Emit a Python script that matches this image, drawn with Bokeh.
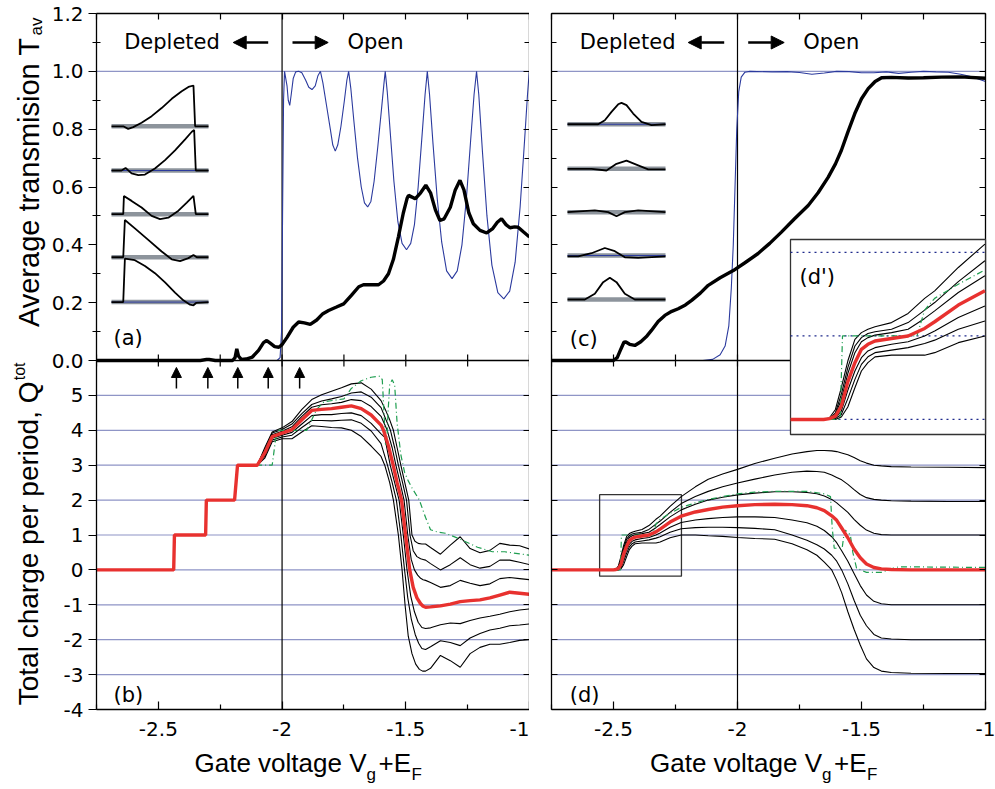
from math import pi
from bokeh.plotting import figure
from bokeh.models import Range1d, LinearAxis, FixedTicker, Span, Label, Arrow, NormalHead, Grid
from bokeh.layouts import row, column
from bokeh.embed import file_html
from bokeh.resources import INLINE

# ============================ DATA ============================
X_RANGE = [-2.75, -1.0]
T_RANGE = [0.0, 1.2]
Q_RANGE = [-4.0, 6.0]

T_TICKS = [0.0, 0.2, 0.4, 0.6, 0.8, 1.0, 1.2]
T_TICK_LABELS = ["0.0", "0.2", "0.4", "0.6", "0.8", "1.0", "1.2"]
T_MINOR = [0.1, 0.3, 0.5, 0.7, 0.9, 1.1]
Q_TICKS = [-4.0, -3.0, -2.0, -1.0, 0.0, 1.0, 2.0, 3.0, 4.0, 5.0]
Q_TICK_LABELS = ["-4", "-3", "-2", "-1", "0", "1", "2", "3", "4", "5"]
X_TICKS = [-2.5, -2.0, -1.5, -1.0]
X_TICK_LABELS = ["-2.5", "-2", "-1.5", "-1"]
X_MINOR = [-2.75, -2.25, -1.75, -1.25]
Q_GRID = [-3, -2, -1, 0, 1, 2, 3, 4, 5]
T_GRID = [1.0]
BOUNDARY_X = -2.0
STEP_ARROW_X = [-2.427, -2.300, -2.179, -2.056, -1.929]
STEP_ARROW_Y = [5.2, 5.8]

# ---- panel (a): transmission (blue) and average transmission (black)
A_T_X = [-2.75, -2.02, -2.008, -2.002, -1.998, -1.994, -1.990,
         -1.980, -1.975, -1.969, -1.963, -1.955, -1.945, -1.933, -1.920, -1.905, -1.892, -1.879, -1.866, -1.855, -1.845,
         -1.835, -1.820, -1.805, -1.795, -1.785, -1.775, -1.762, -1.748, -1.738, -1.731,
         -1.722, -1.710, -1.695, -1.680, -1.667, -1.654, -1.641, -1.628, -1.613, -1.598, -1.588, -1.583,
         -1.575, -1.562, -1.548, -1.532, -1.515, -1.497, -1.480, -1.465, -1.450, -1.435, -1.422, -1.413,
         -1.404, -1.390, -1.373, -1.355, -1.335, -1.313, -1.292, -1.273, -1.255, -1.238, -1.224, -1.214,
         -1.205, -1.190, -1.172, -1.152, -1.128, -1.104, -1.080, -1.058, -1.038, -1.020, -1.008, -1.001, -1.0]
A_T_Y = [0.0, 0.0, 0.01, 0.1, 0.5, 0.9, 1.0,
         0.95, 0.9, 0.882, 0.92, 0.975, 0.998, 1.0, 0.995, 0.97, 0.945, 0.937, 0.95, 0.985, 1.0,
         0.96, 0.88, 0.8, 0.745, 0.724, 0.745, 0.81, 0.9, 0.97, 1.0,
         0.94, 0.83, 0.7, 0.6, 0.545, 0.531, 0.55, 0.62, 0.74, 0.87, 0.96, 1.0,
         0.93, 0.78, 0.62, 0.48, 0.405, 0.383, 0.405, 0.47, 0.6, 0.77, 0.92, 1.0,
         0.92, 0.75, 0.56, 0.41, 0.31, 0.283, 0.31, 0.4, 0.56, 0.76, 0.92, 1.0,
         0.92, 0.72, 0.5, 0.33, 0.235, 0.213, 0.24, 0.34, 0.53, 0.76, 0.92, 1.0, 1.0]
A_TAV_X = [-2.75, -2.45, -2.33, -2.305, -2.295, -2.27, -2.20, -2.19, -2.183, -2.176, -2.165, -2.145, -2.12,
           -2.095, -2.075, -2.062, -2.048, -2.03, -2.013, -2.0, -1.98, -1.955, -1.933, -1.91, -1.886, -1.86,
           -1.835, -1.812, -1.78, -1.751, -1.72, -1.69, -1.671, -1.64, -1.61, -1.59, -1.57, -1.55, -1.53,
           -1.51, -1.495, -1.489, -1.475, -1.462, -1.44, -1.419, -1.40, -1.38, -1.362, -1.345, -1.32, -1.30,
           -1.281, -1.265, -1.245, -1.227, -1.20, -1.173, -1.15, -1.13, -1.113, -1.095, -1.079, -1.06,
           -1.046, -1.025, -1.0]
A_TAV_Y = [0.0, 0.0, 0.0, 0.004, 0.004, 0.0, 0.0, 0.01, 0.04, 0.015, 0.004, 0.005, 0.012,
           0.035, 0.062, 0.069, 0.06, 0.048, 0.046, 0.055, 0.08, 0.115, 0.133, 0.13, 0.125, 0.14,
           0.162, 0.173, 0.185, 0.196, 0.225, 0.255, 0.262, 0.262, 0.262, 0.275, 0.30, 0.35, 0.427,
           0.51, 0.56, 0.571, 0.565, 0.559, 0.58, 0.606, 0.58, 0.52, 0.484, 0.49, 0.53, 0.59,
           0.623, 0.59, 0.51, 0.473, 0.45, 0.441, 0.455, 0.478, 0.49, 0.47, 0.459, 0.462,
           0.461, 0.445, 0.427]

# ---- panel (c): transmission (blue) and average transmission (black)
C_T_X = [-2.75, -2.14, -2.10, -2.07, -2.05, -2.035, -2.025, -2.017, -2.01, -2.003, -1.995, -1.985, -1.97,
         -1.95, -1.86, -1.80, -1.75, -1.70, -1.65, -1.60, -1.55, -1.50, -1.45, -1.40, -1.35, -1.30, -1.25,
         -1.20, -1.15, -1.10, -1.05, -1.0]
C_T_Y = [0.0, 0.0, 0.004, 0.02, 0.05, 0.12, 0.25, 0.4, 0.6, 0.8, 0.93, 0.98, 0.997,
         1.0, 0.998, 0.999, 0.996, 0.99, 0.994, 1.0, 0.999, 0.995, 0.995, 0.998, 0.993, 0.997, 1.0,
         0.998, 0.997, 0.99, 0.98, 0.965]
C_TAV_X = [-2.75, -2.50, -2.485, -2.47, -2.458, -2.45, -2.435, -2.414, -2.39, -2.365, -2.347, -2.32, -2.293,
           -2.265, -2.239, -2.21, -2.185, -2.15, -2.118, -2.07, -2.017, -1.97, -1.917, -1.87, -1.823, -1.77,
           -1.715, -1.675, -1.634, -1.605, -1.581, -1.555, -1.527, -1.50, -1.473, -1.445, -1.419, -1.38,
           -1.312, -1.25, -1.177, -1.10, -1.0]
C_TAV_Y = [0.0, 0.0, 0.01, 0.04, 0.063, 0.064, 0.056, 0.052, 0.065, 0.085, 0.104, 0.135, 0.156,
           0.17, 0.179, 0.192, 0.208, 0.233, 0.26, 0.286, 0.311, 0.338, 0.37, 0.405, 0.444, 0.49,
           0.536, 0.58, 0.634, 0.68, 0.727, 0.79, 0.854, 0.905, 0.94, 0.965, 0.978, 0.979,
           0.977, 0.978, 0.98, 0.981, 0.976]

# ---- panel (a) wave-function sketches (u: 0..1 along sketch, v: height in T units)
SKA_U = [[0, 0.121, 0.172, 0.224, 0.31, 0.414, 0.517, 0.621, 0.724, 0.793, 0.845, 0.862, 1.0],
         [0, 0.103, 0.145, 0.207, 0.276, 0.345, 0.448, 0.552, 0.655, 0.759, 0.828, 0.852, 0.869, 1.0],
         [0, 0.121, 0.128, 0.207, 0.31, 0.414, 0.5, 0.586, 0.69, 0.776, 0.845, 0.869, 1.0],
         [0, 0.121, 0.138, 0.241, 0.379, 0.517, 0.621, 0.707, 0.793, 0.845, 0.879, 1.0],
         [0, 0.121, 0.138, 0.241, 0.345, 0.448, 0.552, 0.655, 0.741, 0.81, 0.845, 0.872, 1.0]]
SKA_V = [[0, 0, -0.009, -0.003, 0.012, 0.035, 0.063, 0.095, 0.121, 0.136, 0.141, 0, 0],
         [0, 0, 0.009, -0.010, -0.016, -0.014, 0.007, 0.036, 0.070, 0.108, 0.134, 0.14, 0, 0],
         [0, 0, 0.063, 0.046, 0.023, -0.006, -0.017, -0.012, 0.012, 0.040, 0.063, 0, 0],
         [0, 0, 0.129, 0.1, 0.06, 0.02, -0.007, -0.013, -0.003, 0.008, 0, 0],
         [0, 0, 0.15, 0.145, 0.125, 0.1, 0.068, 0.033, 0.006, -0.009, -0.011, -0.003, 0]]
SKA_LEVEL = [0.81, 0.657, 0.506, 0.357, 0.202]
SKA_BLUE = [1, 4]

# ---- panel (c) wave-function sketches
SKC_U = [[0, 0.313, 0.381, 0.449, 0.517, 0.551, 0.602, 0.670, 0.755, 0.857, 1.0],
         [0, 0.245, 0.398, 0.5, 0.602, 0.721, 0.823, 1.0],
         [0, 0.279, 0.415, 0.5, 0.585, 0.721, 1.0],
         [0, 0.109, 0.245, 0.381, 0.483, 0.585, 0.721, 1.0],
         [0, 0.177, 0.279, 0.364, 0.432, 0.5, 0.585, 0.687, 1.0]]
SKC_V = [[0, 0, 0.014, 0.043, 0.069, 0.074, 0.066, 0.037, 0.008, -0.003, 0],
         [0, 0, -0.006, 0.017, 0.028, 0.012, -0.002, -0.002],
         [0, 0.006, 0.0, -0.014, 0.0, 0.006, 0],
         [-0.003, -0.003, 0.008, 0.026, 0.015, -0.006, -0.008, -0.003],
         [0, 0, 0.02, 0.06, 0.075, 0.06, 0.02, 0, 0]]
SKC_LEVEL = [0.817, 0.663, 0.513, 0.363, 0.211]
SKC_BLUE = [0, 3]

# ---- panel (b): total charge, common staircase then seven curves
B_STAIR_X = [-2.75, -2.438, -2.435, -2.309, -2.306, -2.192, -2.18]
B_STAIR_Y = [0, 0, 1, 1, 2, 2, 3]
B_HEAD_X = [-2.10, -2.07, -2.04, -2.00, -1.96, -1.92, -1.88, -1.84, -1.80, -1.76, -1.72, -1.68, -1.64, -1.60]
B_TAIL_X = [-1.42, -1.40, -1.36, -1.32, -1.28, -1.24, -1.20, -1.16, -1.12, -1.08, -1.04, -1.00]

B_P3_HEAD = [3.0, 3.5, 3.95, 4.07, 4.25, 4.6, 4.88, 5.02, 5.12, 5.22, 5.33, 5.36, 5.18, 4.85]
B_P3_DROP_X = [-1.58, -1.565, -1.55, -1.535, -1.52, -1.504, -1.488, -1.475, -1.463, -1.45, -1.435]
B_P3_DROP_Y = [4.55, 4.3, 4.0, 3.5, 3.0, 2.5, 2.0, 1.0, 0.82, 0.76, 0.74]
B_P3_TAIL = [0.74, 0.64, 0.45, 0.71, 0.95, 0.61, 0.49, 0.56, 0.76, 0.71, 0.69, 0.6]

B_P2_HEAD = [3.0, 3.45, 3.92, 4.02, 4.18, 4.48, 4.74, 4.84, 4.9, 4.97, 5.07, 5.1, 4.95, 4.65]
B_P2_DROP_X = [-1.58, -1.562, -1.545, -1.53, -1.513, -1.497, -1.483, -1.47, -1.455, -1.44, -1.43]
B_P2_DROP_Y = [4.3, 4.0, 3.5, 3.0, 2.5, 2.0, 1.0, 0.55, 0.38, 0.32, 0.3]
B_P2_TAIL = [0.28, 0.18, 0.0, 0.15, 0.35, 0.15, 0.05, 0.1, 0.28, 0.28, 0.22, 0.15]

B_P1_HEAD = [3.0, 3.4, 3.87, 3.97, 4.1, 4.4, 4.66, 4.73, 4.76, 4.8, 4.88, 4.85, 4.68, 4.4]
B_P1_DROP_X = [-1.575, -1.555, -1.54, -1.523, -1.507, -1.492, -1.478, -1.465, -1.452, -1.44, -1.43]
B_P1_DROP_Y = [4.0, 3.5, 3.0, 2.5, 2.0, 1.0, 0.3, 0.0, -0.15, -0.24, -0.28]
B_P1_TAIL = [-0.3, -0.36, -0.5, -0.45, -0.3, -0.38, -0.45, -0.4, -0.25, -0.22, -0.25, -0.28]

B_RED_HEAD = [3.0, 3.35, 3.82, 3.92, 4.02, 4.3, 4.57, 4.6, 4.62, 4.66, 4.7, 4.62, 4.44, 4.15]
B_RED_DROP_X = [-1.59, -1.57, -1.551, -1.535, -1.517, -1.501, -1.484, -1.47, -1.455, -1.44, -1.43]
B_RED_DROP_Y = [4.0, 3.55, 3.0, 2.5, 2.0, 1.0, 0.0, -0.5, -0.8, -0.97, -1.04]
B_RED_TAIL = [-1.07, -1.06, -1.03, -0.98, -0.91, -0.88, -0.86, -0.8, -0.72, -0.64, -0.67, -0.7]

B_M1_HEAD = [3.0, 3.3, 3.77, 3.86, 3.94, 4.18, 4.42, 4.45, 4.45, 4.48, 4.5, 4.42, 4.2, 3.9]
B_M1_DROP_X = [-1.585, -1.563, -1.545, -1.527, -1.51, -1.495, -1.48, -1.465, -1.45, -1.435]
B_M1_DROP_Y = [3.8, 3.0, 2.5, 2.0, 1.0, 0.0, -0.75, -1.2, -1.5, -1.65]
B_M1_TAIL = [-1.68, -1.66, -1.57, -1.52, -1.54, -1.45, -1.38, -1.33, -1.27, -1.2, -1.15, -1.12]

B_M2_HEAD = [3.0, 3.25, 3.72, 3.81, 3.86, 4.08, 4.28, 4.28, 4.27, 4.29, 4.3, 4.2, 3.98, 3.62]
B_M2_DROP_X = [-1.574, -1.555, -1.538, -1.52, -1.505, -1.492, -1.478, -1.462, -1.448, -1.435]
B_M2_DROP_Y = [3.0, 2.5, 2.0, 1.0, 0.0, -0.8, -1.4, -1.85, -2.1, -2.25]
B_M2_TAIL = [-2.28, -2.2, -2.03, -2.08, -2.17, -1.95, -1.82, -1.72, -1.67, -1.6, -1.58, -1.55]

B_M3_HEAD = [3.0, 3.2, 3.67, 3.76, 3.76, 3.95, 4.13, 4.11, 4.08, 4.07, 4.0, 3.82, 3.55, 3.25]
B_M3_DROP_X = [-1.585, -1.565, -1.55, -1.53, -1.515, -1.503, -1.49, -1.475, -1.46, -1.445, -1.432]
B_M3_DROP_Y = [3.0, 2.5, 2.0, 1.0, 0.0, -1.0, -1.9, -2.4, -2.7, -2.85, -2.9]
B_M3_TAIL = [-2.9, -2.82, -2.45, -2.6, -2.79, -2.4, -2.22, -2.13, -2.13, -2.08, -2.02, -2.0]

B_GREEN_X = [-2.75, -2.438, -2.435, -2.309, -2.306, -2.192, -2.18, -2.04, -2.025, -2.018, -1.90, -1.88, -1.86,
             -1.83, -1.75, -1.72, -1.68, -1.64, -1.605, -1.595, -1.588, -1.582, -1.577, -1.572, -1.565, -1.555,
             -1.545, -1.535, -1.52, -1.505, -1.49, -1.475, -1.445, -1.42, -1.40, -1.37, -1.34, -1.28, -1.21,
             -1.15, -1.10, -1.00]
B_GREEN_Y = [0, 0, 1, 1, 2, 2, 3, 3, 3.8, 4.0, 4.0, 4.3, 4.6,
             4.82, 4.9, 5.2, 5.42, 5.52, 5.55, 5.45, 4.5, 3.6, 3.6, 4.5, 5.3, 5.45,
             5.3, 4.2, 3.3, 2.8, 2.55, 2.35, 2.0, 1.5, 1.15, 1.08, 1.05, 0.88, 0.65,
             0.52, 0.52, 0.42]

# ---- panel (d): total charge, seven curves on a common gate-voltage grid
D_X = [-2.75, -2.556, -2.50, -2.49, -2.48, -2.47, -2.459, -2.447, -2.436, -2.425, -2.413, -2.385, -2.357,
       -2.329, -2.312, -2.272, -2.227, -2.17, -2.118, -2.06, -2.0, -1.93, -1.85, -1.78, -1.72, -1.68,
       -1.65, -1.62, -1.60, -1.58, -1.555, -1.53, -1.505, -1.48, -1.45, -1.42, -1.38, -1.30, -1.15, -1.0]
D_P3 = [0, 0, 0, 0.02, 0.12, 0.38, 0.7, 0.96, 1.04, 1.08, 1.11, 1.16, 1.27, 1.45, 1.54, 1.82, 2.1, 2.38,
        2.6, 2.75, 2.88, 3.05, 3.2, 3.32, 3.39, 3.42, 3.42, 3.41, 3.39, 3.35, 3.3, 3.22, 3.13, 3.06, 3.0,
        2.98, 2.96, 2.95, 2.94, 2.93]
D_P2 = [0, 0, 0, 0.01, 0.08, 0.3, 0.62, 0.88, 0.98, 1.03, 1.05, 1.08, 1.16, 1.31, 1.4, 1.65, 1.9, 2.1,
        2.25, 2.38, 2.49, 2.6, 2.72, 2.8, 2.83, 2.82, 2.8, 2.72, 2.65, 2.58, 2.45, 2.3, 2.16, 2.07, 2.02,
        2.0, 1.98, 1.97, 1.96, 1.96]
D_P1 = [0, 0, 0, 0.01, 0.06, 0.24, 0.55, 0.8, 0.93, 0.98, 1.01, 1.04, 1.08, 1.21, 1.3, 1.52, 1.72, 1.88,
        2.0, 2.08, 2.15, 2.2, 2.24, 2.24, 2.22, 2.18, 2.12, 2.02, 1.92, 1.8, 1.65, 1.45, 1.28, 1.14, 1.05,
        1.01, 1.0, 1.0, 1.0, 1.0]
D_RED = [0, 0, 0, 0.01, 0.04, 0.16, 0.45, 0.68, 0.84, 0.9, 0.94, 0.97, 1.0, 1.09, 1.17, 1.37, 1.54, 1.66,
         1.73, 1.8, 1.84, 1.87, 1.88, 1.87, 1.84, 1.78, 1.7, 1.55, 1.42, 1.2, 0.92, 0.6, 0.35, 0.17, 0.07,
         0.03, 0.01, 0.0, 0.0, 0.0]
D_M1 = [0, 0, 0, 0.0, 0.02, 0.1, 0.35, 0.58, 0.74, 0.82, 0.86, 0.9, 0.93, 1.0, 1.06, 1.22, 1.36, 1.43,
        1.47, 1.5, 1.52, 1.52, 1.5, 1.43, 1.35, 1.25, 1.13, 0.95, 0.78, 0.55, 0.25, -0.1, -0.45, -0.72,
        -0.9, -0.97, -1.0, -1.0, -1.0, -1.0]
D_M2 = [0, 0, 0, 0.0, 0.01, 0.06, 0.25, 0.48, 0.66, 0.75, 0.8, 0.83, 0.86, 0.91, 0.95, 1.08, 1.18, 1.21,
        1.22, 1.22, 1.21, 1.19, 1.15, 1.0, 0.85, 0.72, 0.6, 0.42, 0.25, 0.0, -0.4, -0.87, -1.3, -1.6,
        -1.85, -1.95, -1.98, -2.0, -2.0, -2.0]
D_M3 = [0, 0, 0, 0.0, 0.0, 0.03, 0.15, 0.38, 0.58, 0.68, 0.75, 0.77, 0.77, 0.77, 0.8, 0.92, 1.0, 1.0,
        0.98, 0.96, 0.93, 0.9, 0.88, 0.75, 0.58, 0.42, 0.22, 0.0, -0.3, -0.65, -1.2, -1.7, -2.15, -2.55,
        -2.8, -2.9, -2.94, -2.96, -2.97, -2.97]
D_GREEN_X = [-2.75, -2.556, -2.472, -2.468, -2.342, -2.329, -2.312, -2.272, -2.227, -2.17, -2.118, -2.0,
             -1.93, -1.85, -1.72, -1.65, -1.625, -1.618, -1.61, -1.578, -1.572, -1.565, -1.545, -1.535,
             -1.52, -1.48, -1.42, -1.37, -1.35, -1.00]
D_GREEN_Y = [0, 0, 0, 1.0, 1.0, 1.31, 1.45, 1.62, 1.79, 1.92, 2.02, 2.18,
             2.23, 2.25, 2.25, 2.18, 2.1, 1.2, 0.62, 0.62, 0.95, 1.14, 1.0, 0.5,
             0.05, -0.07, -0.07, 0.05, 0.09, 0.07]

# zoom window shown in inset (d')
INSET_X = [-2.556, -2.226]
INSET_Y = [-0.18, 2.155]
INSET_GRID = [0, 1, 2]

# ============================ STYLE / LAYOUT ============================
BLUE = "#2b3a9e"
DOT = "#1f2a8c"
RED = "#e8312f"
GREEN = "#1f9e50"
GRAY = "#8d949c"
TICK_FONT = "DejaVu Sans"
TXT_FONT = "DejaVu Sans"
LAB_FONT = "Liberation Sans"

PAGE_W, PAGE_H = 995, 789
STRIP_W = 48          # left strip holding the rotated axis titles
LABEL_H = 44          # bottom strip holding the x titles
TOP_PX, MID_PX, BOT_PX = 13, 360, 709
LEFT_FRAME = (95, 528)
RIGHT_FRAME = (550, 984)
INSET_PX = (789, 984, 239, 434)
SKA_PX = (110, 207)
SKC_PX = (566, 664)
TICK_LEN = 6

# stacked panels share one frame per column: T scale on top, Q scale below
T_FULL = [T_RANGE[0] - (BOT_PX - MID_PX) / (MID_PX - TOP_PX) * (T_RANGE[1] - T_RANGE[0]), T_RANGE[1]]
Q_FULL = [Q_RANGE[0], Q_RANGE[1] + (MID_PX - TOP_PX) / (BOT_PX - MID_PX) * (Q_RANGE[1] - Q_RANGE[0])]
T_PER_PX = (T_FULL[1] - T_FULL[0]) / (BOT_PX - TOP_PX)


def q_to_t(q):
    return T_FULL[0] + (q - Q_FULL[0]) / (Q_FULL[1] - Q_FULL[0]) * (T_FULL[1] - T_FULL[0])


def no_grid(p):
    p.outline_line_color = None
    p.background_fill_color = "white"
    p.border_fill_color = "white"
    p.center = [c for c in p.center if not isinstance(c, Grid)]


class Panel:
    def __init__(self, frame, borders):
        self.box = (frame[0], frame[1], TOP_PX, BOT_PX)
        l, r, t, b = borders
        p = figure(x_range=Range1d(*X_RANGE), y_range=Range1d(*T_FULL),
                   frame_width=frame[1] - frame[0], frame_height=BOT_PX - TOP_PX,
                   min_border_left=l, min_border_right=r, min_border_top=t, min_border_bottom=b,
                   output_backend="svg", toolbar_location=None,
                   x_axis_location=None, y_axis_location=None)
        p.extra_y_ranges = {"q": Range1d(*Q_FULL)}
        no_grid(p)
        self.fig = p

    def dx(self, px):
        x0, x1 = self.box[0], self.box[1]
        return X_RANGE[0] + (px - x0) / (x1 - x0) * (X_RANGE[1] - X_RANGE[0])

    def dy(self, py):
        return T_FULL[1] - (py - TOP_PX) * T_PER_PX


def strip(fx0, fx1, fy0, fy1, borders):
    """Text-only figure whose data coordinates equal page pixels (y downward)."""
    l, r, t, b = borders
    p = figure(x_range=Range1d(fx0, fx1), y_range=Range1d(fy1, fy0),
               frame_width=fx1 - fx0, frame_height=fy1 - fy0,
               min_border_left=l, min_border_right=r, min_border_top=t, min_border_bottom=b,
               output_backend="svg", toolbar_location=None,
               x_axis_location=None, y_axis_location=None)
    no_grid(p)
    return p


def axis(P, side, ticks, minor=(), labels=None, maj_in=0, maj_out=0, min_in=0, min_out=0, standoff=5):
    ax = LinearAxis(ticker=FixedTicker(ticks=list(ticks), minor_ticks=list(minor)))
    ax.axis_line_color = "black"
    ax.axis_line_width = 1.3
    ax.major_tick_line_color = "black"
    ax.minor_tick_line_color = "black"
    ax.major_tick_line_width = 1.2
    ax.minor_tick_line_width = 1.2
    ax.major_tick_in = maj_in
    ax.major_tick_out = maj_out
    ax.minor_tick_in = min_in
    ax.minor_tick_out = min_out
    if labels is None:
        ax.major_label_text_color = None
        ax.major_label_text_font_size = "1px"
        ax.major_label_standoff = 0
    else:
        ax.major_label_overrides = {t: s for t, s in zip(ticks, labels)}
        ax.major_label_text_font = TICK_FONT
        ax.major_label_text_font_size = "20px"
        ax.major_label_text_color = "black"
        ax.major_label_standoff = standoff
    P.fig.add_layout(ax, side)


def txt(fig, x, y, s, size, font=TXT_FONT, angle=0.0, align="left", level=None):
    """Text anchored at the vertical middle of its line box."""
    lab = Label(x=x, y=y, text=s, text_font=font, text_font_size=f"{size}px",
                angle=angle, text_align=align, text_baseline="middle", text_color="black")
    if level:
        lab.level = level
    fig.add_layout(lab)


def frame_axes(P, left_labels):
    q_pos = [q_to_t(q) for q in Q_TICKS]
    if left_labels:
        axis(P, "left", T_TICKS + q_pos, T_MINOR, T_TICK_LABELS + Q_TICK_LABELS, maj_out=8, min_in=4, min_out=4)
    else:
        axis(P, "left", T_TICKS + q_pos, T_MINOR, None, maj_in=6, min_in=5)
    axis(P, "right", T_TICKS + q_pos, T_MINOR, None, maj_in=6, min_in=5)
    axis(P, "above", X_TICKS, X_MINOR, None, maj_in=6, min_in=6)
    axis(P, "below", X_TICKS, X_MINOR, X_TICK_LABELS, maj_in=8, min_in=5, standoff=12)
    # boundary between the stacked panels, with ticks crossing it
    P.fig.add_layout(Span(location=0.0, dimension="width", line_color="black", line_width=1.3))
    xs = X_TICKS + X_MINOR
    P.fig.segment(x0=xs, x1=xs, y0=[-TICK_LEN * T_PER_PX] * len(xs), y1=[TICK_LEN * T_PER_PX] * len(xs),
                  line_color="black", line_width=1.2)


def spans(P):
    for v in T_GRID:
        P.fig.add_layout(Span(location=v, dimension="width", line_color=DOT, line_dash="1 1",
                              line_width=1.2, level="underlay"))
    for v in Q_GRID:
        P.fig.add_layout(Span(location=v, dimension="width", y_range_name="q", line_color=DOT,
                              line_dash="1 1", line_width=1.2, level="underlay"))
    P.fig.add_layout(Span(location=BOUNDARY_X, dimension="height", line_color="black",
                          line_width=1.2, level="underlay"))


def sketches(P, us, vs, levels, blue_idx, px_span):
    fx0, fx1 = P.box[0], P.box[1]
    w = px_span[1] - px_span[0]
    P.fig.extra_x_ranges["sk"] = Range1d((fx0 - px_span[0]) / w, (fx1 - px_span[0]) / w)
    for i, (u, v, lv) in enumerate(zip(us, vs, levels)):
        P.fig.line([0, 1], [lv, lv], x_range_name="sk", line_color=GRAY, line_width=4.5)
        if i in blue_idx:
            P.fig.line([0, 1], [lv, lv], x_range_name="sk", line_color=BLUE, line_width=1)
        P.fig.line(u, [lv + t for t in v], x_range_name="sk", line_color="black", line_width=1.8)


def header(P, dep_px, larr, rarr, open_px):
    txt(P.fig, P.dx(dep_px), P.dy(41), "Depleted", 21)
    txt(P.fig, P.dx(open_px), P.dy(41), "Open", 21)
    yy = P.dy(42)
    for a, b in (larr, rarr):
        P.fig.add_layout(Arrow(end=NormalHead(size=13, fill_color="black", line_color="black"),
                               x_start=P.dx(a), y_start=yy, x_end=P.dx(b), y_end=yy,
                               line_width=2.6, line_color="black"))


def xlabel(fig, off):
    txt(fig, 193 + off, 762, "Gate voltage V", 26, LAB_FONT)
    txt(fig, 365 + off, 774, "g", 17, LAB_FONT)
    txt(fig, 377 + off, 762, "+E", 26, LAB_FONT)
    txt(fig, 410 + off, 774, "F", 17, LAB_FONT)


# ============================ FIGURES ============================
BOTTOM_BORDER = PAGE_H - LABEL_H - BOT_PX
L_BORDERS = (LEFT_FRAME[0] - STRIP_W, 0, TOP_PX, BOTTOM_BORDER)
R_BORDERS = (RIGHT_FRAME[0] - LEFT_FRAME[1], PAGE_W - RIGHT_FRAME[1], TOP_PX, BOTTOM_BORDER)
L = Panel(LEFT_FRAME, L_BORDERS)
R = Panel(RIGHT_FRAME, R_BORDERS)
frame_axes(L, True)
frame_axes(R, False)
spans(L)
spans(R)

# ---- (a)
sketches(L, SKA_U, SKA_V, SKA_LEVEL, SKA_BLUE, SKA_PX)
L.fig.line(A_T_X, A_T_Y, line_color=BLUE, line_width=1.1)
L.fig.line(A_TAV_X, A_TAV_Y, line_color="black", line_width=3.4)
header(L, 122.7, (266.7, 231.7), (291, 326.7), 346)
txt(L.fig, L.dx(112), L.dy(337), "(a)", 21)

# ---- (b)
b_curves = [(B_P3_HEAD, B_P3_DROP_X, B_P3_DROP_Y, B_P3_TAIL),
            (B_P2_HEAD, B_P2_DROP_X, B_P2_DROP_Y, B_P2_TAIL),
            (B_P1_HEAD, B_P1_DROP_X, B_P1_DROP_Y, B_P1_TAIL),
            (B_M1_HEAD, B_M1_DROP_X, B_M1_DROP_Y, B_M1_TAIL),
            (B_M2_HEAD, B_M2_DROP_X, B_M2_DROP_Y, B_M2_TAIL),
            (B_M3_HEAD, B_M3_DROP_X, B_M3_DROP_Y, B_M3_TAIL)]
for head, dx_, dy_, tail in b_curves:
    L.fig.line(B_STAIR_X + B_HEAD_X + dx_ + B_TAIL_X, B_STAIR_Y + head + dy_ + tail,
               y_range_name="q", line_color="black", line_width=1.1)
L.fig.line(B_GREEN_X, B_GREEN_Y, y_range_name="q", line_color=GREEN, line_width=1.2, line_dash="6 3 1 3")
L.fig.line(B_STAIR_X + B_HEAD_X + B_RED_DROP_X + B_TAIL_X,
           B_STAIR_Y + B_RED_HEAD + B_RED_DROP_Y + B_RED_TAIL,
           y_range_name="q", line_color=RED, line_width=3.4)
for xa in STEP_ARROW_X:
    L.fig.add_layout(Arrow(end=NormalHead(size=10, fill_color="black", line_color="black"),
                           x_start=xa, y_start=STEP_ARROW_Y[0], x_end=xa, y_end=STEP_ARROW_Y[1],
                           y_range_name="q", line_width=1.5, line_color="black"))
txt(L.fig, L.dx(112), L.dy(694), "(b)", 21)

# ---- (c)
sketches(R, SKC_U, SKC_V, SKC_LEVEL, SKC_BLUE, SKC_PX)
R.fig.line(C_T_X, C_T_Y, line_color=BLUE, line_width=1.1)
R.fig.line(C_TAV_X, C_TAV_Y, line_color="black", line_width=3.4)
header(R, 578.3, (722.7, 686.7), (746.7, 782.7), 801.7)
txt(R.fig, R.dx(568.3), R.dy(338), "(c)", 21)

# ---- (d)
D_CURVES_BLACK = [D_P3, D_P2, D_P1, D_M1, D_M2, D_M3]
R.fig.quad(left=[INSET_X[0]], right=[INSET_X[1]], bottom=[INSET_Y[0]], top=[INSET_Y[1]],
           y_range_name="q", fill_color=None, line_color="#333333", line_width=1.3)
for ys in D_CURVES_BLACK:
    R.fig.line(D_X, ys, y_range_name="q", line_color="black", line_width=1.1)
R.fig.line(D_GREEN_X, D_GREEN_Y, y_range_name="q", line_color=GREEN, line_width=1.2, line_dash="6 3 1 3")
R.fig.line(D_X, D_RED, y_range_name="q", line_color=RED, line_width=3.4)
txt(R.fig, R.dx(568.3), R.dy(694), "(d)", 21)


# ---- inset (d')
def window(xs, ys):
    pts = [(x, y) for x, y in zip(xs, ys) if INSET_X[0] - 1e-9 <= x <= INSET_X[1] + 1e-9]
    return [p[0] for p in pts], [p[1] for p in pts]


def inset(P):
    fx0, fx1, fy0, fy1 = P.box
    ix0, ix1, iy0, iy1 = INSET_PX
    kx = (INSET_X[1] - INSET_X[0]) / (ix1 - ix0)
    ky = (INSET_Y[1] - INSET_Y[0]) / (iy1 - iy0)
    P.fig.extra_x_ranges["ix"] = Range1d(INSET_X[0] - (ix0 - fx0) * kx, INSET_X[1] + (fx1 - ix1) * kx)
    P.fig.extra_y_ranges["iy"] = Range1d(INSET_Y[0] - (fy1 - iy1) * ky, INSET_Y[1] + (iy0 - fy0) * ky)
    kw = dict(x_range_name="ix", y_range_name="iy", level="overlay")
    P.fig.quad(left=[INSET_X[0]], right=[INSET_X[1]], bottom=[INSET_Y[0]], top=[INSET_Y[1]],
               fill_color="white", line_color="#333333", line_width=1.3, **kw)
    for g in INSET_GRID:
        P.fig.line(INSET_X, [g, g], line_color=DOT, line_dash="2 4", line_width=1.3, **kw)
    for ys in D_CURVES_BLACK:
        xs, yy = window(D_X, ys)
        P.fig.line(xs, yy, line_color="black", line_width=1.1, **kw)
    xs, yy = window(D_GREEN_X, D_GREEN_Y)
    P.fig.line(xs, yy, line_color=GREEN, line_width=1.2, line_dash="6 3 1 3", **kw)
    xs, yy = window(D_X, D_RED)
    P.fig.line(xs, yy, line_color=RED, line_width=3.4, **kw)


inset(R)
txt(R.fig, R.dx(798), R.dy(276), "(d')", 21, level="overlay")

# ---- title strips (frames aligned with the panel frames they sit beside)
SL = strip(0, STRIP_W, TOP_PX, BOT_PX, (0, 0, TOP_PX, BOTTOM_BORDER + LABEL_H))
txt(SL, 28, 37, "Average transmision T", 29, LAB_FONT, angle=pi / 2, align="right")
txt(SL, 36, 17, "av", 17, LAB_FONT, angle=pi / 2, align="right")
txt(SL, 28, 381, "Total charge per period, Q", 28, LAB_FONT, angle=pi / 2, align="right")
txt(SL, 19, 362, "tot", 16, LAB_FONT, angle=pi / 2, align="right")

SBL = strip(LEFT_FRAME[0], LEFT_FRAME[1], PAGE_H - LABEL_H, PAGE_H, (L_BORDERS[0], L_BORDERS[1], 0, 0))
xlabel(SBL, 0)
SBR = strip(RIGHT_FRAME[0], RIGHT_FRAME[1], PAGE_H - LABEL_H, PAGE_H, (R_BORDERS[0], R_BORDERS[1], 0, 0))
xlabel(SBR, 455.5)

layout = row(SL, column(L.fig, SBL), column(R.fig, SBR))
html = file_html(layout, INLINE, title="Transmission and charge")
open("out.html", "w").write(html)
